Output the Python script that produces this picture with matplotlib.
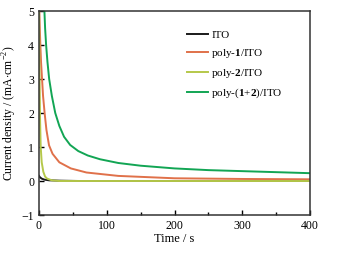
import matplotlib
matplotlib.use("Agg")
import matplotlib.pyplot as plt
from matplotlib.ticker import MultipleLocator

plt.rcParams["font.family"] = ["Liberation Serif", "DejaVu Serif"]
plt.rcParams["mathtext.fontset"] = "custom"
plt.rcParams["mathtext.rm"] = "Liberation Serif"
plt.rcParams["mathtext.bf"] = "Liberation Serif:bold"

# --- data ---
t_ito = [0, 1, 2, 4, 8, 15, 30, 60, 100, 200, 300, 400]
j_ito = [0.15, 0.12, 0.1, 0.07, 0.04, 0.02, 0.01, 0.0, 0.0, 0.0, 0.0, 0.0]

t_p1 = [0.5, 1, 2, 3, 4.5, 6, 8.3, 11, 14.8, 20, 30, 47, 70, 117, 200, 300, 400]
j_p1 = [5.0, 4.6, 4.0, 3.5, 3.0, 2.5, 2.0, 1.5, 1.05, 0.8, 0.55, 0.37, 0.25, 0.15, 0.08, 0.06, 0.05]

t_p2 = [0, 0.7, 1.5, 2.5, 4, 6.4, 9, 12, 19, 30, 50, 100, 200, 300, 400]
j_p2 = [5.2, 3.4, 1.9, 1.0, 0.55, 0.27, 0.13, 0.07, 0.02, 0.0, 0.0, 0.0, 0.0, 0.0, 0.0]

t_p12 = [8, 9, 10.5, 12.5, 15, 19, 24, 30, 37, 46, 58, 72, 90, 117, 150, 200, 250, 300, 350, 400]
j_p12 = [5.0, 4.5, 4.0, 3.5, 3.0, 2.5, 2.0, 1.62, 1.3, 1.06, 0.88, 0.75, 0.64, 0.53, 0.45, 0.37, 0.32, 0.29, 0.26, 0.23]

labels = ["ITO", r"poly-$\mathbf{1}$/ITO", r"poly-$\mathbf{2}$/ITO", r"poly-($\mathbf{1}$+$\mathbf{2}$)/ITO"]
colors = ["#1a1a1a", "#e0714a", "#b5c84a", "#12a554"]

fig = plt.figure(figsize=(3.42, 2.57), dpi=100)
ax = fig.add_axes([39 / 342, 42 / 257, 271 / 342, 204 / 257])

series = [(t_ito, j_ito), (t_p1, j_p1), (t_p2, j_p2), (t_p12, j_p12)]
for (t, j), lab, c in zip(series, labels, colors):
    ax.plot(t, j, color=c, lw=1.4, label=lab)

ax.set_xlim(0, 400)
ax.set_ylim(-1, 5)
ax.xaxis.set_major_locator(MultipleLocator(100))
ax.xaxis.set_minor_locator(MultipleLocator(50))
ax.set_yticks(range(-1, 6))
ax.set_yticklabels(["\u22121", "0", "1", "2", "3", "4", "5"])
ax.tick_params(direction="in", labelsize=8.5, length=3.5, width=1, top=False, right=False)
ax.tick_params(which="minor", direction="in", length=2.5, width=1)
for s in ax.spines.values():
    s.set_linewidth(1.1)
    s.set_color("#333333")
ax.set_xlabel("Time / s", fontsize=9, labelpad=1)
ax.set_ylabel(r"Current density / (mA$\cdot$cm$^{-2}$)", fontsize=8.5, labelpad=2)
ax.legend(loc="upper left", bbox_to_anchor=(0.546, 0.905), frameon=False, fontsize=8,
          borderpad=0, borderaxespad=0,
          handlelength=1.9, handletextpad=0.3, labelspacing=0.62)

fig.savefig("out.png", dpi=100)
